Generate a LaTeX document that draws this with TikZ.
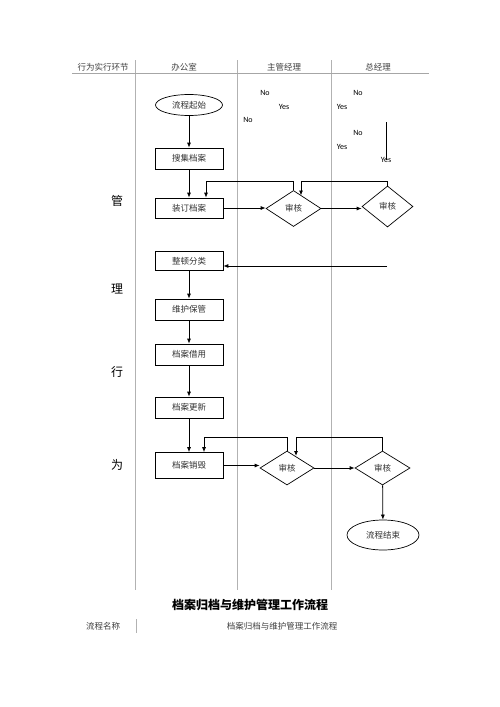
\documentclass[tikz,border=0pt]{standalone}
\usepackage{fontspec}
\setmainfont{Liberation Serif}
\newfontfamily\cjk{Noto Sans CJK SC}
\newfontfamily\lat{Carlito}
\usetikzlibrary{shapes.geometric,arrows.meta}
\begin{document}
\begin{tikzpicture}[x=1pt,y=-1pt,
  lane/.style={draw=black!30, line width=0.8pt},
  box/.style={draw, line width=0.7pt, text=black!80, minimum width=68pt, minimum height=21pt, inner sep=0pt, font=\cjk\fontsize{8.5}{9}\selectfont},
  dia/.style={draw, diamond, line width=0.7pt, text=black!80, minimum width=55pt, minimum height=36pt, inner sep=0pt, font=\cjk\fontsize{8.5}{9}\selectfont},
  term/.style={draw, ellipse, line width=0.7pt, text=black!80, inner sep=0pt, font=\cjk\fontsize{8.5}{9}\selectfont},
  arr/.style={line width=0.8pt, -{Latex[length=5pt,width=4pt]}},
  yn/.style={font=\lat\fontsize{8}{9}\selectfont, inner sep=0pt},
  hd/.style={font=\cjk\fontsize{8.5}{9}\selectfont, text=black!75, inner sep=0pt},
  lt/.style={font=\cjk\fontsize{12}{13}\selectfont, inner sep=0pt}]
\useasboundingbox (0,0) rectangle (500,707);
\fill[white] (0,0) rectangle (500,707);
% lanes
\draw[lane] (135.5,60) -- (135.5,590);
\draw[lane] (237.5,60) -- (237.5,590);
\draw[lane] (331,60) -- (331,590);
\draw[draw=black!35, line width=0.8pt] (72,73.5) -- (429,73.5);
% header
\node[hd] (h0) at (103,67) {行为实行环节};
\node[hd] (h1) at (184,67) {办公室};
\node[hd] (h2) at (284,67) {主管经理};
\node[hd] (h3) at (378,67) {总经理};
% lane text
\node[lt] (g1) at (117,201) {管};
\node[lt] (g2) at (117,289) {理};
\node[lt] (g3) at (117,372) {行};
\node[lt] (g4) at (117,465) {为};
% yes/no
\node[yn] (n1) at (265,93) {No};
\node[yn] (n2) at (284,107) {Yes};
\node[yn] (n3) at (248,120) {No};
\node[yn] (n4) at (358,93) {No};
\node[yn] (n5) at (342,107) {Yes};
\node[yn] (n6) at (358,133) {No};
\node[yn] (n7) at (342,147) {Yes};
\node[yn] (n8) at (386,160) {Yes};
\coordinate (v1) at (386.5,122);
\coordinate (v2) at (386.5,160);
\draw[line width=0.8pt] (v1) -- (v2);
% nodes
\node[term, minimum width=67pt, minimum height=21pt] (start) at (189,105) {流程起始};
\node[box] (collect) at (189,158.5) {搜集档案};
\node[box, minimum height=20pt] (bind) at (189,208) {装订档案};
\node[dia] (d1) at (293.5,208.5) {审核};
\node[dia, minimum width=51pt, minimum height=41pt] (d2) at (387.5,206.5) {审核};
\node[box, minimum height=19pt] (sort) at (189,261) {整顿分类};
\node[box] (maint) at (189,309.5) {维护保管};
\node[box] (borrow) at (189,354.5) {档案借用};
\node[box] (update) at (189,407.5) {档案更新};
\node[box, minimum height=26pt] (destroy) at (189,465.5) {档案销毁};
\node[dia, minimum width=54pt, minimum height=34pt] (d3) at (287,468) {审核};
\node[dia, minimum width=55pt, minimum height=34pt] (d4) at (382.5,468) {审核};
\node[term, minimum width=72pt, minimum height=30pt] (end) at (383,535) {流程结束};
% arrows
\draw[arr] (start) -- (collect);
\draw[arr] (collect) -- (bind);
\draw[arr] (bind.east) -- (bind.east -| d1.west);
\draw[arr] (d1.east) -- (d1.east -| d2.west);
\coordinate (l1) at (206,181);
\draw[arr] (d1.north) |- (l1) -- (l1 |- bind.north);
\coordinate (l2) at (301,181);
\coordinate (l2e) at (301,195.5);
\draw[arr] (d2.north) |- (l2) -- (l2e);
\coordinate (r1) at (387,266);
\draw[arr] (r1) -- (r1 -| sort.east);
\draw[arr] (sort) -- (maint);
\draw[arr] (maint) -- (borrow);
\draw[arr] (borrow) -- (update);
\draw[arr] (update) -- (destroy);
\draw[arr] (destroy.east) -- (destroy.east -| d3.west);
\draw[arr] (d3.east) -- (d4.west);
\coordinate (l3) at (204,437);
\draw[arr] (d3.north) |- (l3) -- (l3 |- destroy.north);
\coordinate (l4) at (296,437);
\coordinate (l4e) at (296,456);
\draw[arr] (d4.north) |- (l4) -- (l4e);
\draw[arr] (d4) -- (end);
% caption
\node[font=\cjk\bfseries\fontsize{12}{13}\selectfont, inner sep=0pt] (cap) at (250,605) {档案归档与维护管理工作流程};
\node[hd] (fn) at (103,626) {流程名称};
\node[hd] (fv) at (282,626) {档案归档与维护管理工作流程};
\coordinate (s1) at (136,619);
\coordinate (s2) at (136,633);
\draw[draw=black!30, line width=0.8pt] (s1) -- (s2);
\end{tikzpicture}
\end{document}
